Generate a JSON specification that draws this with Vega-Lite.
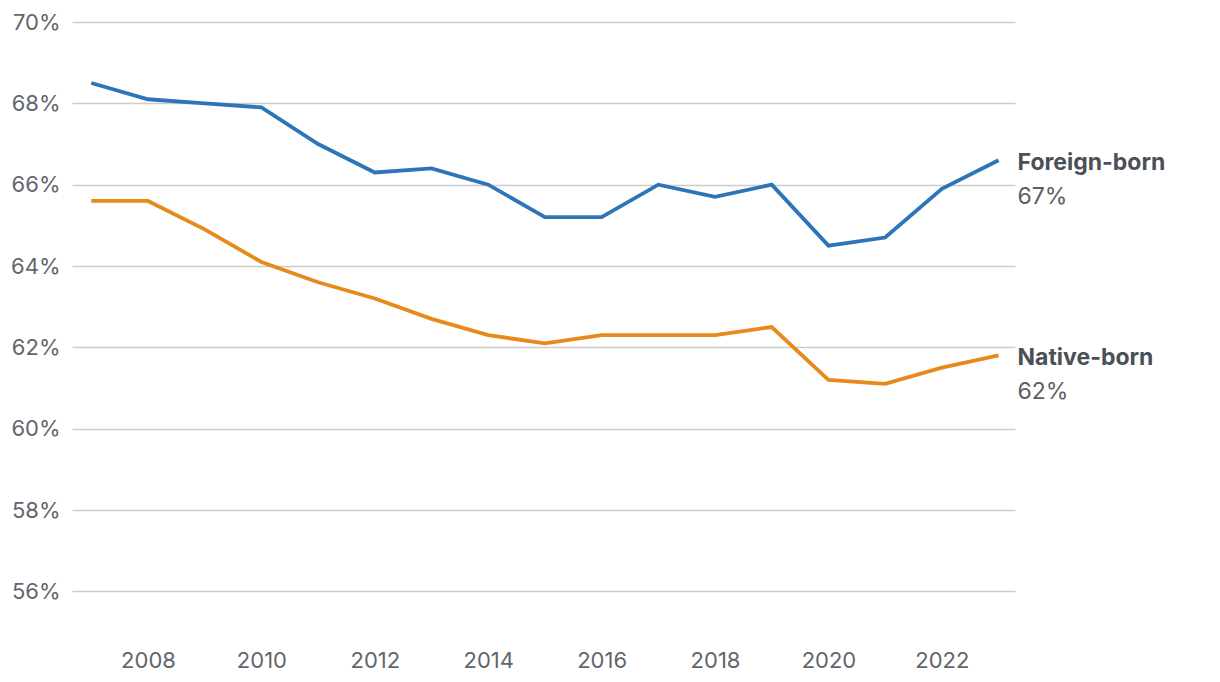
{
  "$schema": "https://vega.github.io/schema/vega-lite/v6.json",
  "width": 943,
  "height": 610,
  "autosize": {"type": "none"},
  "padding": {"left": 72, "top": 22, "right": 205, "bottom": 50},
  "background": "white",
  "config": {
    "view": {"stroke": null},
    "font": "Inter",
    "axis": {"labelFont": "Inter", "labelColor": "#62666c", "labelFontSize": 22}
  },
  "data": {
    "values": [
      {"year": 2007, "group": "Foreign-born", "value": 0.685},
      {"year": 2008, "group": "Foreign-born", "value": 0.681},
      {"year": 2009, "group": "Foreign-born", "value": 0.680},
      {"year": 2010, "group": "Foreign-born", "value": 0.679},
      {"year": 2011, "group": "Foreign-born", "value": 0.670},
      {"year": 2012, "group": "Foreign-born", "value": 0.663},
      {"year": 2013, "group": "Foreign-born", "value": 0.664},
      {"year": 2014, "group": "Foreign-born", "value": 0.660},
      {"year": 2015, "group": "Foreign-born", "value": 0.652},
      {"year": 2016, "group": "Foreign-born", "value": 0.652},
      {"year": 2017, "group": "Foreign-born", "value": 0.660},
      {"year": 2018, "group": "Foreign-born", "value": 0.657},
      {"year": 2019, "group": "Foreign-born", "value": 0.660},
      {"year": 2020, "group": "Foreign-born", "value": 0.645},
      {"year": 2021, "group": "Foreign-born", "value": 0.647},
      {"year": 2022, "group": "Foreign-born", "value": 0.659},
      {"year": 2023, "group": "Foreign-born", "value": 0.666},
      {"year": 2007, "group": "Native-born", "value": 0.656},
      {"year": 2008, "group": "Native-born", "value": 0.656},
      {"year": 2009, "group": "Native-born", "value": 0.649},
      {"year": 2010, "group": "Native-born", "value": 0.641},
      {"year": 2011, "group": "Native-born", "value": 0.636},
      {"year": 2012, "group": "Native-born", "value": 0.632},
      {"year": 2013, "group": "Native-born", "value": 0.627},
      {"year": 2014, "group": "Native-born", "value": 0.623},
      {"year": 2015, "group": "Native-born", "value": 0.621},
      {"year": 2016, "group": "Native-born", "value": 0.623},
      {"year": 2017, "group": "Native-born", "value": 0.623},
      {"year": 2018, "group": "Native-born", "value": 0.623},
      {"year": 2019, "group": "Native-born", "value": 0.625},
      {"year": 2020, "group": "Native-born", "value": 0.612},
      {"year": 2021, "group": "Native-born", "value": 0.611},
      {"year": 2022, "group": "Native-born", "value": 0.615},
      {"year": 2023, "group": "Native-born", "value": 0.618}
    ]
  },
  "encoding": {
    "x": {
      "field": "year", "type": "quantitative",
      "scale": {"domain": [2006.66, 2023.29], "nice": false, "zero": false},
      "axis": {
        "title": null, "values": [2008, 2010, 2012, 2014, 2016, 2018, 2020, 2022],
        "format": "d", "grid": false, "domain": false, "ticks": false,
        "labelPadding": 18
      }
    },
    "y": {
      "field": "value", "type": "quantitative",
      "scale": {"domain": [0.55, 0.70], "nice": false, "zero": false},
      "axis": {
        "title": null, "values": [0.56, 0.58, 0.60, 0.62, 0.64, 0.66, 0.68, 0.70],
        "format": ".0%", "domain": false, "ticks": false, "labelPadding": 12,
        "gridColor": "#cccccc", "gridWidth": 1.5
      }
    },
    "color": {
      "field": "group", "type": "nominal",
      "scale": {"domain": ["Foreign-born", "Native-born"], "range": ["#2e75b8", "#e8891c"]},
      "legend": null
    }
  },
  "layer": [
    {"mark": {"type": "line", "strokeWidth": 3.8}},
    {
      "transform": [{"filter": "datum.year === 2023"}],
      "mark": {"type": "text", "align": "left", "baseline": "middle", "dx": 19, "dy": 3, "fontSize": 23, "fontWeight": "bold"},
      "encoding": {"text": {"field": "group"}, "color": {"value": "#4a5058"}}
    },
    {
      "transform": [{"filter": "datum.year === 2023"}],
      "mark": {"type": "text", "align": "left", "baseline": "middle", "dx": 19, "dy": 37, "fontSize": 23},
      "encoding": {"text": {"field": "value", "format": ".0%"}, "color": {"value": "#5a5f66"}}
    }
  ]
}
